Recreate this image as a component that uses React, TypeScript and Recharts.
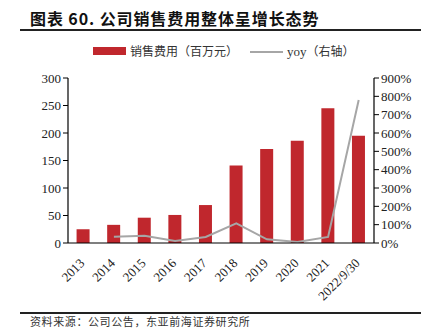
import React from "react";
import { ComposedChart, Bar, Line, XAxis, YAxis } from "recharts";

const categories = ["2013", "2014", "2015", "2016", "2017", "2018", "2019", "2020", "2021", "2022/9/30"];
const salesExpense = [25, 33, 46, 51, 69, 141, 171, 186, 245, 195];
const yoy = [null, 34, 40, 11, 33, 107, 20, 5, 33, 780];
const leftTicks = [0, 50, 100, 150, 200, 250, 300];
const rightTicks = [0, 100, 200, 300, 400, 500, 600, 700, 800, 900];

const data = categories.map((c, i) => ({ name: c, sales: salesExpense[i], yoy: yoy[i] }));

const serif = "'Liberation Serif', 'Times New Roman', serif";
const cjk = "'Noto Sans CJK SC', sans-serif";

const XTick = (props: any) => {
  const { x, y, payload } = props;
  return (
    <g transform={`translate(${x + 2},${y + 13})`}>
      <text textAnchor="end" transform="rotate(-45)" fontSize={13} fontFamily={serif} fill="#222">
        {payload.value}
      </text>
    </g>
  );
};

export default function App() {
  return (
    <div style={{ position: "absolute", left: 0, top: 0, width: 433, height: 332, background: "#fff", overflow: "hidden" }}>
      <div style={{ position: "absolute", left: 30, top: 6, fontFamily: cjk, fontWeight: 700, fontSize: 16, color: "#111", whiteSpace: "nowrap", letterSpacing: 0.9 }}>
        图表 60. 公司销售费用整体呈增长态势
      </div>
      <div style={{ position: "absolute", left: 20, top: 29, width: 401, height: 1.5, background: "#222" }} />
      <div style={{ position: "absolute", left: 93, top: 47, width: 33, height: 8, background: "#c0272d" }} />
      <div style={{ position: "absolute", left: 130, top: 42, fontFamily: cjk, fontSize: 12, color: "#333", whiteSpace: "nowrap" }}>
        销售费用（百万元）
      </div>
      <div style={{ position: "absolute", left: 250, top: 51, width: 33, height: 1.5, background: "#a6a6a6" }} />
      <div style={{ position: "absolute", left: 287, top: 42, fontFamily: cjk, fontSize: 12, color: "#333", whiteSpace: "nowrap" }}>
        <span style={{ fontFamily: serif, fontSize: 13 }}>yoy</span>（右轴）
      </div>
      <div style={{ position: "absolute", left: 20, top: 312, width: 401, height: 1.5, background: "#222" }} />
      <div style={{ position: "absolute", left: 30, top: 313, fontFamily: cjk, fontSize: 11, color: "#333", whiteSpace: "nowrap", letterSpacing: 0.6 }}>
        资料来源：公司公告，东亚前海证券研究所
      </div>
      <div style={{ position: "absolute", left: 0, top: 0 }}>
        <ComposedChart width={433} height={332} data={data} margin={{ top: 78, left: 28, right: 4, bottom: 19 }} barCategoryGap="28%">
          <XAxis dataKey="name" tick={<XTick />} tickLine={false} axisLine={{ stroke: "#000", strokeWidth: 1.2 }} height={70} interval={0} />
          <YAxis
            yAxisId="left"
            orientation="left"
            width={40}
            domain={[0, 300]}
            ticks={leftTicks}
            tickSize={5}
            tickLine={{ stroke: "#000" }}
            axisLine={{ stroke: "#000", strokeWidth: 1.2 }}
            tick={{ fontSize: 13, fontFamily: serif, fill: "#222" }}
            interval={0}
          />
          <YAxis
            yAxisId="right"
            orientation="right"
            width={55}
            domain={[0, 900]}
            ticks={rightTicks}
            tickSize={5}
            tickLine={{ stroke: "#000" }}
            axisLine={{ stroke: "#000", strokeWidth: 1.2 }}
            tickFormatter={(v: number) => `${v}%`}
            tick={{ fontSize: 13, fontFamily: serif, fill: "#222", textAnchor: "start" }}
            interval={0}
          />
          <Bar yAxisId="left" dataKey="sales" fill="#c0272d" isAnimationActive={false} />
          <Line yAxisId="right" dataKey="yoy" stroke="#a6a6a6" strokeWidth={2} dot={false} isAnimationActive={false} connectNulls={false} />
        </ComposedChart>
      </div>
    </div>
  );
}
